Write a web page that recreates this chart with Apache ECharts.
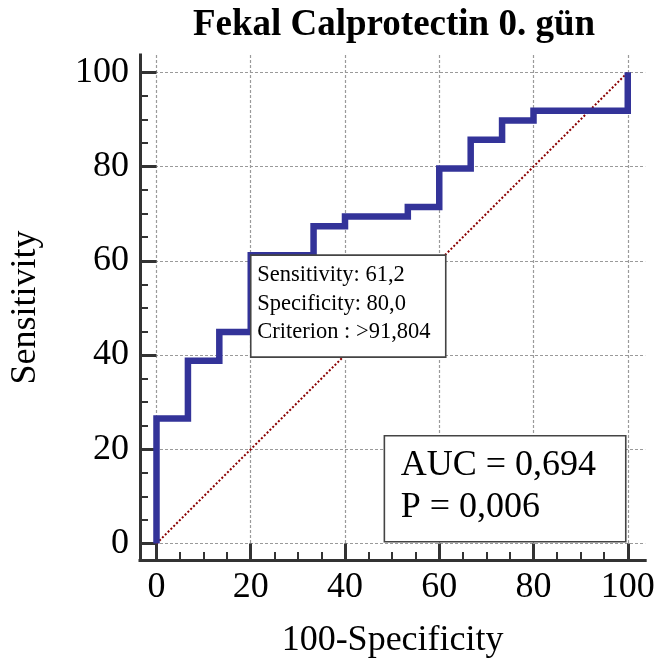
<!DOCTYPE html>
<html>
<head>
<meta charset="utf-8">
<script src="https://cdn.jsdelivr.net/npm/echarts@6/dist/echarts.min.js"></script>
<style>
html, body { margin: 0; padding: 0; background: #fff; }
#chart { width: 658px; height: 666px; }
</style>
</head>
<body>
<div id="chart"></div>
<script>
// ROC curve points: 100-Specificity (x) against Sensitivity (y), in percent
const fpr = [0, 0, 6.67, 13.33, 20, 33.33, 40, 53.33, 60, 66.67, 73.33, 80, 100];
const sensitivity = [0, 26.53, 38.78, 44.90, 61.2, 67.35, 69.39, 71.43, 79.59, 85.71, 89.80, 91.84, 100];

// chance diagonal
const diagX = [0, 100];
const diagY = [0, 100];

// optimal criterion and summary statistics
const critSensitivity = 61.2;
const critSpecificity = 80.0;
const critValue = '>91,804';
const auc = 0.694;
const pValue = 0.006;

// axis ticks
const majorTicks = [0, 20, 40, 60, 80, 100];
const minorTicks = [5, 10, 15, 25, 30, 35, 45, 50, 55, 65, 70, 75, 85, 90, 95];

const titleText = 'Fekal Calprotectin 0. gün';
const xName = '100-Specificity';
const yName = 'Sensitivity';

const SERIF = '"Liberation Serif", "Times New Roman", Times, serif';
const AXIS_COLOR = '#333333';
const AX_MIN = -3.5, AX_MAX = 103.7;

const fmt = (v, d) => v.toFixed(d).replace('.', ',');

const chart = echarts.init(document.getElementById('chart'), null, { renderer: 'canvas' });

function mainAxis(extra) {
  return Object.assign({
    type: 'value',
    min: AX_MIN,
    max: AX_MAX,
    axisLine: { show: true, onZero: false, lineStyle: { color: AXIS_COLOR, width: 3, cap: 'square' } },
    axisTick: { show: true, inside: true, length: 16.5, customValues: majorTicks,
                lineStyle: { color: AXIS_COLOR, width: 3 } },
    axisLabel: { customValues: majorTicks, fontSize: 36, fontFamily: SERIF, color: '#000' },
    splitLine: { show: true, lineStyle: { color: '#9a9a9a', width: 1.2, type: [3, 2] } },
    nameLocation: 'middle',
    nameTextStyle: { fontSize: 36, fontFamily: SERIF, color: '#000' }
  }, extra);
}

function minorAxis(position) {
  return {
    type: 'value',
    min: AX_MIN,
    max: AX_MAX,
    position: position,
    axisLine: { show: false, onZero: false },
    axisTick: { show: true, inside: true, length: 8, customValues: minorTicks,
                lineStyle: { color: AXIS_COLOR, width: 2 } },
    axisLabel: { show: false },
    splitLine: { show: false }
  };
}

const xMain = mainAxis({ position: 'bottom', name: xName, nameGap: 63 });
xMain.axisLabel.margin = 9.5;
const yMain = mainAxis({ position: 'left', name: yName, nameGap: 96, nameRotate: 90 });
yMain.axisLabel.margin = 11;

chart.setOption({
  animation: false,
  backgroundColor: '#fff',
  title: {
    text: titleText,
    left: 389,
    top: 2,
    textAlign: 'center',
    textStyle: { fontSize: 37, fontWeight: 'bold', fontFamily: SERIF, color: '#000' }
  },
  grid: { left: 139.5, right: 12.8, top: 54.9, bottom: 106, containLabel: false },
  xAxis: [xMain, minorAxis('bottom')],
  yAxis: [yMain, minorAxis('left')],
  series: [
    {
      type: 'line',
      xAxisIndex: 0, yAxisIndex: 0,
      data: diagX.map((x, i) => [x, diagY[i]]),
      symbol: 'none',
      silent: true,
      lineStyle: { color: '#8b0000', width: 2, type: [2, 2] },
      z: 2
    },
    {
      type: 'line',
      xAxisIndex: 0, yAxisIndex: 0,
      data: fpr.map((x, i) => [x, sensitivity[i]]),
      step: 'end',
      symbol: 'none',
      silent: true,
      lineStyle: { color: '#333399', width: 6.5, join: 'miter', cap: 'butt' },
      z: 3
    }
  ]
});

// Annotation boxes: criterion box hangs from the criterion point,
// AUC box sits in the lower right corner of the plot.
const critPt = chart.convertToPixel({ gridIndex: 0 }, [100 - critSpecificity, critSensitivity]);
const cornerPt = chart.convertToPixel({ gridIndex: 0 }, [100, 0]);

const critLines = [
  'Sensitivity: ' + fmt(critSensitivity, 1),
  'Specificity: ' + fmt(critSpecificity, 1),
  'Criterion : ' + critValue
];
const aucLines = [
  'AUC = ' + fmt(auc, 3),
  'P = ' + fmt(pValue, 3)
];

const AUC_W = 241.4, AUC_H = 106;

chart.setOption({
  graphic: [
    {
      type: 'group',
      x: critPt[0],
      y: critPt[1],
      z: 100,
      children: [
        { type: 'rect', z: 100, shape: { x: 0, y: 0, width: 195, height: 102 },
          style: { fill: '#fff', stroke: '#444', lineWidth: 1.6 } },
        { type: 'text', z: 101, x: 6.5, y: 6,
          style: { text: critLines.join('\n'), fontSize: 22.5, fontFamily: SERIF,
                   lineHeight: 28.5, fill: '#000', verticalAlign: 'top' } }
      ]
    },
    {
      type: 'group',
      x: cornerPt[0] - 2 - AUC_W,
      y: cornerPt[1] - 1.8 - AUC_H,
      z: 100,
      children: [
        { type: 'rect', z: 100, shape: { x: 0, y: 0, width: AUC_W, height: AUC_H },
          style: { fill: '#fff', stroke: '#444', lineWidth: 1.6 } },
        { type: 'text', z: 101, x: 16.4, y: 9,
          style: { text: aucLines.join('\n'), fontSize: 36, fontFamily: SERIF,
                   lineHeight: 41.6, fill: '#000', verticalAlign: 'top' } }
      ]
    }
  ]
});
</script>
</body>
</html>
